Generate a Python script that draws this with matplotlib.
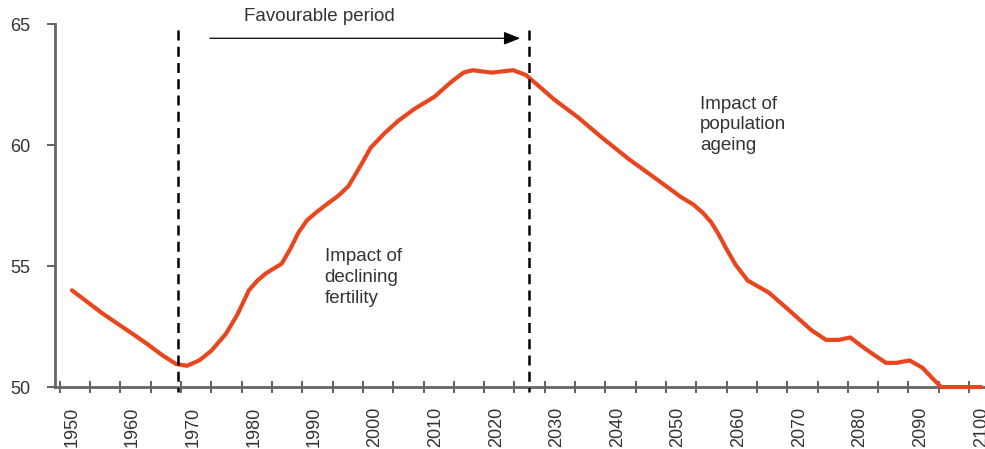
import matplotlib
matplotlib.use("Agg")
import matplotlib.pyplot as plt

plt.rcParams['font.family'] = ['Liberation Sans', 'DejaVu Sans']

# share of working-age population
years = [1950, 1955, 1960, 1962.3, 1965, 1967.2, 1969, 1971, 1973, 1975.4,
         1977.3, 1979.2, 1980.6, 1982, 1984.6, 1986, 1987.4, 1988.8, 1990.2,
         1992, 1993.9, 1995.6, 1997.5, 1999.3, 2001.6, 2003.8, 2006.5, 2009.8,
         2012.5, 2014.6, 2016.1, 2019.2, 2022.8, 2024.9, 2027, 2029.5, 2033.5,
         2037.5, 2042, 2046.7, 2050.5, 2052.5, 2054.1, 2055.5, 2056.6, 2058,
         2059.5, 2061.5, 2065, 2068.2, 2072, 2074.4, 2076.5, 2078.4, 2080.5,
         2082.5, 2084.3, 2086, 2088.2, 2090.3, 2092, 2093.4, 2095.9, 2100]
values = [54.0, 53.05, 52.2, 51.8, 51.3, 50.95, 50.88, 51.1, 51.5, 52.2,
          53.0, 54.0, 54.4, 54.7, 55.1, 55.7, 56.4, 56.9, 57.2,
          57.55, 57.9, 58.3, 59.1, 59.9, 60.5, 61.0, 61.5, 62.0,
          62.6, 63.0, 63.1, 63.0, 63.1, 62.9, 62.45, 61.9, 61.15,
          60.3, 59.4, 58.55, 57.85, 57.55, 57.2, 56.8, 56.35, 55.7,
          55.05, 54.4, 53.9, 53.2, 52.35, 51.95, 51.95, 52.05, 51.65,
          51.3, 51.0, 51.0, 51.1, 50.8, 50.35, 50.0, 50.0, 50.0]

label_years = list(range(1950, 2101, 10))
minor_years = list(range(1948, 2101, 5))
period_start = 1967.5
period_end = 2025.4

fig = plt.figure(figsize=(9.85, 4.49), dpi=100)
ax = fig.add_axes([0.0558, 0.138, 0.944, 0.808])

ax.plot(years, values, color='#e8461e', lw=3.0, solid_capstyle='round',
        solid_joinstyle='round', zorder=3, clip_on=False)

for xv in (period_start, period_end):
    ax.plot([xv, xv], [64.75, 49.8], color='black', lw=1.8,
            dashes=(4, 2.5), zorder=4, clip_on=False)

ax.annotate('', xy=(2024.4, 64.42), xytext=(1972.3, 64.42),
            arrowprops=dict(arrowstyle='-|>,head_length=1.0,head_width=0.4',
                            color='black', lw=0.9), annotation_clip=False)
ax.text(1978.4, 64.95, 'Favourable period', ha='left', va='bottom',
        fontsize=13.5, color='#333333', clip_on=False)

ax.text(1991.7, 55.75, 'Impact of\ndeclining\nfertility', ha='left', va='top',
        fontsize=13.5, color='#333333', linespacing=1.3)
ax.text(2053.6, 62.05, 'Impact of\npopulation\nageing', ha='left', va='top',
        fontsize=13.5, color='#333333', linespacing=1.3)

ax.set_xlim(1947.2, 2100.6)
ax.set_ylim(50, 65)
ax.set_yticks([50, 55, 60, 65])
ax.set_xticks(label_years)
ax.set_xticklabels([str(y) for y in label_years], rotation=90)
ax.set_xticks(minor_years, minor=True)

ax.tick_params(axis='x', which='major', length=0, pad=14, labelsize=13,
               labelcolor='#333333')
ax.tick_params(axis='x', which='minor', direction='inout', length=8,
               width=1.3, color='#555555')
ax.tick_params(axis='y', direction='out', length=6, width=1.3,
               color='#555555', labelsize=13, labelcolor='#333333', pad=12)

for side in ('top', 'right'):
    ax.spines[side].set_visible(False)
for side in ('left', 'bottom'):
    ax.spines[side].set_color('#666666')
    ax.spines[side].set_linewidth(2)

fig.savefig('out.png', dpi=100)
